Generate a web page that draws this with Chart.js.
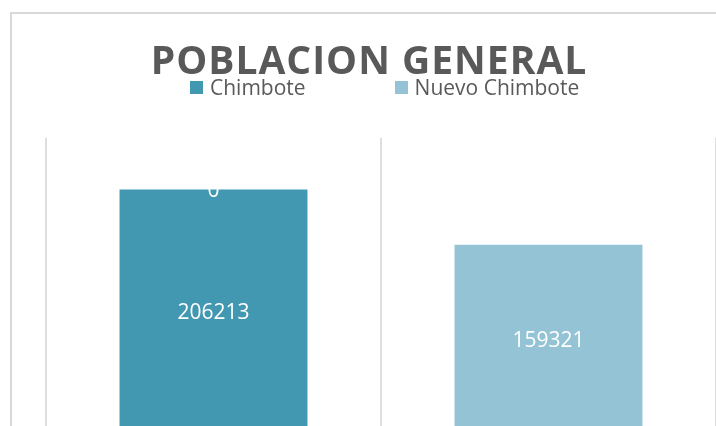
<!DOCTYPE html>
<html>
<head>
<meta charset="utf-8">
<script src="https://cdn.jsdelivr.net/npm/chart.js@4"></script>
<style>
  html, body { margin: 0; padding: 0; background: #fff; }
  body { width: 716px; height: 426px; overflow: hidden; position: relative; font-family: 'Open Sans', sans-serif; }
  .frame { position: absolute; left: 10px; top: 12px; width: 740px; height: 480px; border: 2px solid #d9d9d9; }
  .plot { position: absolute; left: 0; top: 0; width: 714px; height: 440px; }
  .legend { position: absolute; left: 190px; top: 77px; display: flex; gap: 89px; }
  .legend-item { display: flex; align-items: center; font-size: 21px; line-height: 21px; color: #595959; white-space: nowrap; }
  .legend-box { width: 13px; height: 13px; margin-right: 7px; }
</style>
</head>
<body>
<div class="frame">
  <div class="plot"><canvas id="chart"></canvas></div>
</div>
<div class="legend" id="legend"></div>
<script>
// --- data ---
const categories = ['Chimbote', 'Nuevo Chimbote'];
const chimboteValues = [206213, 0];
const nuevoChimboteValues = [0, 159321];
const seriesColors = ['#4398B1', '#93C3D5'];
const yMax = 250000;

const FONT = "'Open Sans', sans-serif";

// legend (html, built from the series)
const legendEl = document.getElementById('legend');
categories.forEach((name, i) => {
  const item = document.createElement('div');
  item.className = 'legend-item';
  const box = document.createElement('span');
  box.className = 'legend-box';
  box.style.background = seriesColors[i];
  item.appendChild(box);
  item.appendChild(document.createTextNode(name));
  legendEl.appendChild(item);
});

// spaced-out title letters
const titleSpacing = {
  id: 'titleSpacing',
  beforeDraw(chart) { chart.ctx.letterSpacing = '1px'; },
  beforeDatasetsDraw(chart) { chart.ctx.letterSpacing = '0px'; },
};

// value labels centred in each bar segment (zeros sitting on the axis are skipped)
const barLabels = {
  id: 'barLabels',
  afterDatasetsDraw(chart) {
    const ctx = chart.ctx;
    const zeroY = chart.scales.y.getPixelForValue(0);
    ctx.save();
    ctx.font = '21px ' + FONT;
    ctx.fillStyle = '#ffffff';
    ctx.textAlign = 'center';
    ctx.textBaseline = 'middle';
    chart.data.datasets.forEach((ds, di) => {
      chart.getDatasetMeta(di).data.forEach((bar, i) => {
        if (ds.data[i] === 0 && Math.abs(bar.base - zeroY) < 1) return;
        ctx.fillText(String(ds.data[i]), bar.x, (bar.y + bar.base) / 2 + 2);
      });
    });
    ctx.restore();
  },
};

const hiddenAxis = width => ({
  display: true,
  ticks: { display: false },
  grid: { display: false },
  border: { display: false },
  afterFit: s => { s.width = width; },
});

new Chart(document.getElementById('chart'), {
  type: 'bar',
  data: {
    labels: categories,
    datasets: [
      {
        label: categories[0],
        data: chimboteValues,
        backgroundColor: seriesColors[0],
        barPercentage: 0.561,
        categoryPercentage: 1,
      },
      {
        label: categories[1],
        data: nuevoChimboteValues,
        backgroundColor: seriesColors[1],
        barPercentage: 0.561,
        categoryPercentage: 1,
      },
    ],
  },
  options: {
    responsive: true,
    maintainAspectRatio: false,
    animation: false,
    layout: { padding: { bottom: 21 } },
    plugins: {
      legend: { display: false },
      tooltip: { enabled: false },
      title: {
        display: true,
        text: 'POBLACION GENERAL',
        color: '#595959',
        font: { family: FONT, size: 39, weight: 'bold', lineHeight: 1.2 },
        padding: { top: 25, bottom: 52 },
      },
    },
    scales: {
      x: {
        stacked: true,
        ticks: { display: false },
        grid: { display: true, offset: true, color: '#dedede', lineWidth: 2, drawTicks: false },
        border: { display: false },
      },
      y: Object.assign(hiddenAxis(34), { stacked: true, min: 0, max: yMax, position: 'left' }),
      yR: Object.assign(hiddenAxis(10), { position: 'right' }),
    },
  },
  plugins: [titleSpacing, barLabels],
});
</script>
</body>
</html>
